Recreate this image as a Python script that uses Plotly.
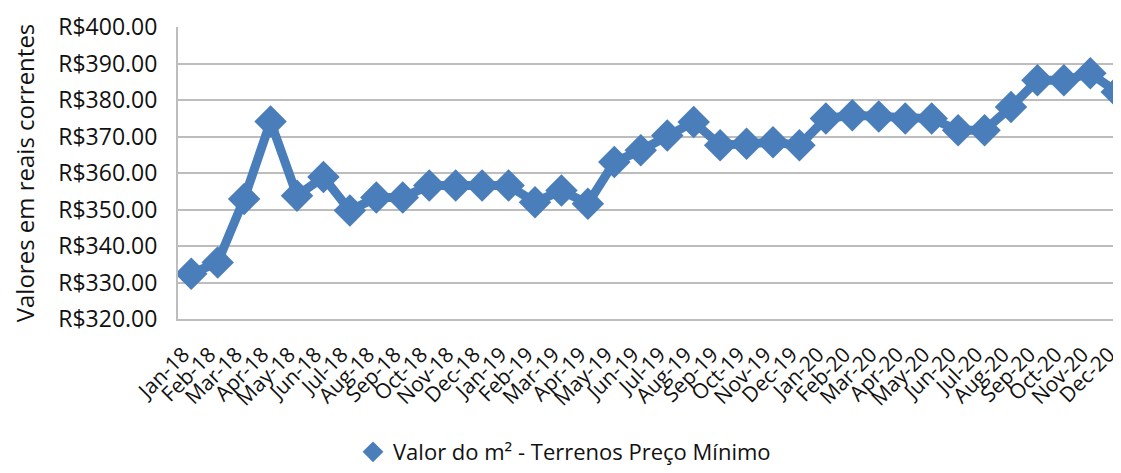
import plotly.graph_objects as go

months = ["Jan-18", "Feb-18", "Mar-18", "Apr-18", "May-18", "Jun-18", "Jul-18", "Aug-18",
          "Sep-18", "Oct-18", "Nov-18", "Dec-18", "Jan-19", "Feb-19", "Mar-19", "Apr-19",
          "May-19", "Jun-19", "Jul-19", "Aug-19", "Sep-19", "Oct-19", "Nov-19", "Dec-19",
          "Jan-20", "Feb-20", "Mar-20", "Apr-20", "May-20", "Jun-20", "Jul-20", "Aug-20",
          "Sep-20", "Oct-20", "Nov-20", "Dec-20"]
values = [332.4, 335.5, 352.9, 374.1, 353.8, 358.9, 349.7, 353.3,
          353.3, 356.6, 356.6, 356.6, 356.6, 352.0, 355.2, 351.6,
          363.0, 366.2, 370.3, 374.0, 367.6, 368.0, 368.4, 367.6,
          374.9, 375.8, 375.5, 374.9, 374.9, 371.7, 371.7, 378.1,
          385.4, 385.4, 387.3, 382.2]
series_name = "Valor do m² - Terrenos Preço Mínimo"
y_title = "Valores em reais correntes"

BLUE = "#4A7EBB"
FONT = "Open Sans"

fig = go.Figure()
fig.add_trace(go.Scatter(
    x=months, y=values, mode="lines+markers", showlegend=False,
    line=dict(color=BLUE, width=9),
    marker=dict(symbol="diamond", size=25, color=BLUE),
))
fig.add_trace(go.Scatter(
    x=[None], y=[None], mode="markers", name=series_name, showlegend=True,
    marker=dict(symbol="diamond", size=25, color=BLUE),
))

# page body has an 8px default margin, so the figure is drawn 8px smaller
fig.update_layout(
    width=1113, height=465,
    margin=dict(l=170, r=0, t=19, b=154),
    paper_bgcolor="white", plot_bgcolor="white",
    font=dict(family=FONT, size=22, color="#111111"),
    showlegend=True,
    legend=dict(orientation="h", xref="container", yref="container",
                x=0.5, xanchor="center", y=-0.03, yanchor="bottom",
                font=dict(family=FONT, size=22, color="#111111"),
                itemsizing="trace"),
)
fig.update_xaxes(
    type="category", range=[-0.5, 35.16], automargin=False,
    tickmode="linear", tick0=0, dtick=1,
    tickangle=-45, tickfont=dict(family=FONT, size=21),
    showgrid=False, showline=True, linecolor="#BDBDBD", linewidth=2,
    ticks="", ticklabelstandoff=13, ticklabelshift=-8,
)
fig.update_yaxes(
    range=[320, 400], dtick=10, tickprefix="R$", tickformat=".2f", automargin=False,
    tickfont=dict(family=FONT, size=23),
    showgrid=True, gridcolor="#BDBDBD", gridwidth=2,
    showline=True, linecolor="#BDBDBD", linewidth=2,
    zeroline=False, ticks="", ticklabelstandoff=14,
    title=dict(text=y_title, font=dict(family=FONT, size=24), standoff=30),
)

fig.write_html("out.html")
